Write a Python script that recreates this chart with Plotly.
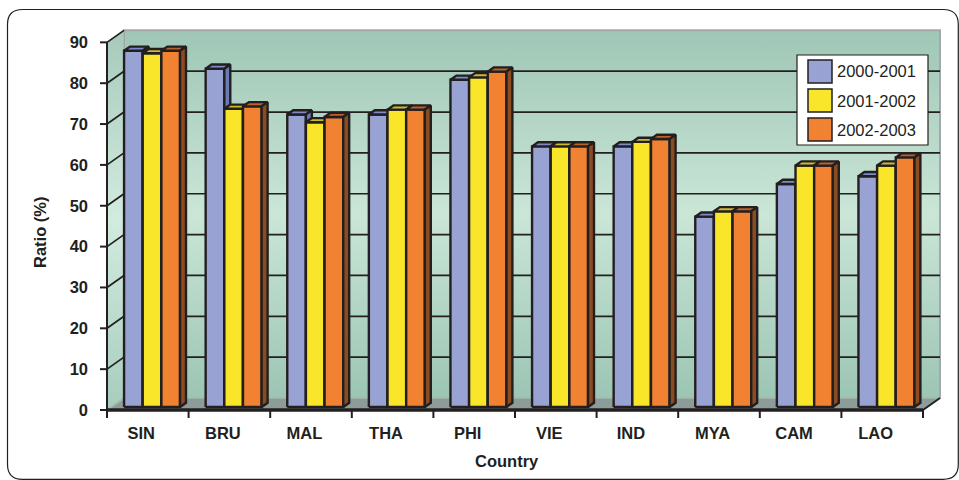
import plotly.graph_objects as go

# ---- data -------------------------------------------------------------
countries = ["SIN", "BRU", "MAL", "THA", "PHI", "VIE", "IND", "MYA", "CAM", "LAO"]
periods = ["2000-2001", "2001-2002", "2002-2003"]
ratio_2000_2001 = [87.2, 82.8, 71.6, 71.6, 80.1, 63.8, 63.8, 46.6, 54.6, 56.5]
ratio_2001_2002 = [86.6, 73.0, 69.7, 72.8, 80.7, 63.8, 64.9, 47.9, 59.1, 59.1]
ratio_2002_2003 = [87.2, 73.6, 71.0, 72.8, 82.1, 63.8, 65.6, 47.9, 59.1, 61.1]
y_ticks = [0, 10, 20, 30, 40, 50, 60, 70, 80, 90]

series = [ratio_2000_2001, ratio_2001_2002, ratio_2002_2003]

# ---- styling ----------------------------------------------------------
front_colors = ["#99a3d3", "#f9e62b", "#f08232"]
top_colors = ["#7d8cc6", "#cdbb2c", "#b9622a"]
side_colors = ["#6a7bb6", "#b3a21f", "#8c4c1f"]
INK = "#231f20"
FONT = "Liberation Sans"

W, H = 959, 480
L_M, R_M, T_M, B_M = 99, 13, 28, 60
PX_PER_CAT = 81.6          # pixels per category
PX_PER_UNIT = 4.085        # pixels per percent
Y_MAX = 90

# oblique depth vector of the 3D box, in data units
DX = 17 / PX_PER_CAT
DY = 12 / PX_PER_UNIT
BAR_FRONT, BAR_BACK = 0.25, 0.6   # depth fractions of the bar solids
CLUSTER = 0.686
BW = CLUSTER / 3

x_lo = -0.5 - (107 - L_M) / PX_PER_CAT
x_hi = x_lo + (W - L_M - R_M) / PX_PER_CAT
y_lo = -(H - B_M - 410) / PX_PER_UNIT
y_hi = y_lo + (H - T_M - B_M) / PX_PER_UNIT

fig = go.Figure()


def poly(xs, ys, **kw):
    fig.add_trace(go.Scatter(x=xs, y=ys, mode="lines", fill="toself",
                             hoverinfo="skip", showlegend=False, **kw))


def segs(pairs, color, width):
    xs, ys = [], []
    for (x0, y0), (x1, y1) in pairs:
        xs += [x0, x1, None]
        ys += [y0, y1, None]
    fig.add_trace(go.Scatter(x=xs, y=ys, mode="lines", hoverinfo="skip",
                             showlegend=False,
                             line=dict(color=color, width=width)))


wall_grad = dict(type="vertical",
                 colorscale=[[0, "#9cc5b4"], [0.5, "#cae6d7"], [1, "#9fc6b6"]])
side_grad = dict(type="vertical",
                 colorscale=[[0, "#a6cdbd"], [0.5, "#d2ebdf"], [1, "#a6cabb"]])

# back wall
poly([-0.5 + DX, 9.5 + DX, 9.5 + DX, -0.5 + DX, -0.5 + DX],
     [DY, DY, Y_MAX + DY, Y_MAX + DY, DY],
     fillgradient=wall_grad, line=dict(color="#a3a9ab", width=2))
# left wall
poly([-0.5, -0.5 + DX, -0.5 + DX, -0.5, -0.5],
     [0, DY, Y_MAX + DY, Y_MAX, 0],
     fillgradient=side_grad, line=dict(color="#a3a9ab", width=1))
# floor
poly([-0.5, 9.5, 9.5 + DX, -0.5 + DX, -0.5],
     [0, 0, DY, DY, 0],
     fillcolor="#8d9c99", line=dict(color="#b4c4bf", width=1))

# gridlines on the back wall and the left wall
segs([((-0.5 + DX, v + DY), (9.5 + DX, v + DY)) for v in y_ticks[1:-1]], INK, 1.7)
segs([((-0.5, v), (-0.5 + DX, v + DY)) for v in y_ticks[1:]], INK, 1.7)
segs([((-0.5, 0), (-0.5 + DX, DY))], "#aeb6b4", 2)

# 3D columns: front, top and side faces per series
for s, vals in enumerate(series):
    faces = {"front": ([], []), "top": ([], []), "side": ([], [])}
    for c, v in enumerate(vals):
        x0 = c - CLUSTER / 2 + s * BW
        x1 = x0 + BW
        fx, fy = BAR_FRONT * DX, BAR_FRONT * DY
        bx, by = BAR_BACK * DX, BAR_BACK * DY
        fxs, fys = faces["front"]
        fxs += [x0 + fx, x1 + fx, x1 + fx, x0 + fx, x0 + fx, None]
        fys += [fy, fy, v + fy, v + fy, fy, None]
        txs, tys = faces["top"]
        txs += [x0 + fx, x1 + fx, x1 + bx, x0 + bx, x0 + fx, None]
        tys += [v + fy, v + fy, v + by, v + by, v + fy, None]
        sxs, sys_ = faces["side"]
        sxs += [x1 + fx, x1 + bx, x1 + bx, x1 + fx, x1 + fx, None]
        sys_ += [fy, by, v + by, v + fy, fy, None]
    for face, color in (("front", front_colors[s]), ("top", top_colors[s]),
                        ("side", side_colors[s])):
        xs, ys = faces[face]
        poly(xs, ys, fillcolor=color, line=dict(color=INK, width=2.4))

# front axes, tick marks and floor edges
tick_dx = 7 / PX_PER_CAT
tick_dy = 8 / PX_PER_UNIT
segs([((-0.5, 0), (-0.5, Y_MAX))], INK, 2)
segs([((-0.5 - tick_dx, v), (-0.5, v)) for v in y_ticks], INK, 2)
segs([((-0.5 + i, 0), (-0.5 + i, -tick_dy)) for i in range(len(countries) + 1)], INK, 2)
segs([((9.5, 0), (9.5 + DX, DY))], INK, 2)
segs([((-0.5, 0), (9.5, 0))], INK, 3.5)

tick_font = dict(family=FONT, size=16.5, color=INK, weight="bold")

fig.update_xaxes(range=[x_lo, x_hi], tickvals=[i - 0.08 for i in range(len(countries))],
                 ticktext=countries, showgrid=False, zeroline=False,
                 showline=False, ticks="", tickfont=tick_font,
                 ticklabelstandoff=1)
fig.update_yaxes(range=[y_lo, y_hi], tickvals=y_ticks,
                 ticktext=[str(t) for t in y_ticks], showgrid=False,
                 zeroline=False, showline=False, ticks="", tickfont=tick_font,
                 ticklabelstandoff=10)


def px_x(px):
    return (px - L_M) / (W - L_M - R_M)


def px_y(py):
    return (H - B_M - py) / (H - T_M - B_M)


shapes = []
# rounded outer frame
fl, ft, fr, fb, rad = 7.5, 9.5, 958.3, 479.3, 15
pts = [
    ("M", fl + rad, ft), ("L", fr - rad, ft), ("Q", fr, ft, fr, ft + rad),
    ("L", fr, fb - rad), ("Q", fr, fb, fr - rad, fb), ("L", fl + rad, fb),
    ("Q", fl, fb, fl, fb - rad), ("L", fl, ft + rad), ("Q", fl, ft, fl + rad, ft),
]
path = ""
for p in pts:
    cmd = p[0]
    coords = p[1:]
    out = []
    for i in range(0, len(coords), 2):
        out.append(f"{px_x(coords[i]):.5f},{px_y(coords[i + 1]):.5f}")
    path += cmd + " ".join(out) + " "
path += "Z"
shapes.append(dict(type="path", xref="paper", yref="paper", path=path,
                   line=dict(color=INK, width=1.2), layer="below"))

# legend box
shapes.append(dict(type="rect", xref="paper", yref="paper",
                   x0=px_x(797), x1=px_x(928), y0=px_y(55), y1=px_y(145),
                   fillcolor="white", line=dict(color=INK, width=1.2),
                   layer="above"))
annotations = []
for i, name in enumerate(periods):
    top = 60 + i * 29
    shapes.append(dict(type="rect", xref="paper", yref="paper",
                       x0=px_x(808), x1=px_x(832), y0=px_y(top), y1=px_y(top + 23),
                       fillcolor=front_colors[i], line=dict(color=INK, width=1.5),
                       layer="above"))
    annotations.append(dict(text=name, xref="paper", yref="paper",
                            x=px_x(835), y=px_y(top + 11.5), xanchor="left",
                            yanchor="middle", showarrow=False,
                            font=dict(family=FONT, size=16.5, color=INK)))

title_font = dict(family=FONT, size=16.5, color=INK, weight="bold")
annotations.append(dict(text="Country", xref="paper", yref="paper",
                        x=px_x(507), y=px_y(461), showarrow=False,
                        xanchor="center", yanchor="middle", font=title_font))
annotations.append(dict(text="Ratio (%)", xref="paper", yref="paper",
                        x=px_x(40), y=px_y(232), showarrow=False, textangle=-90,
                        xanchor="center", yanchor="middle", font=title_font))

fig.update_layout(width=W, height=H,
                  margin=dict(l=L_M, r=R_M, t=T_M, b=B_M, autoexpand=False),
                  paper_bgcolor="white", plot_bgcolor="rgba(0,0,0,0)",
                  showlegend=False, shapes=shapes, annotations=annotations)

fig.write_html("out.html")
